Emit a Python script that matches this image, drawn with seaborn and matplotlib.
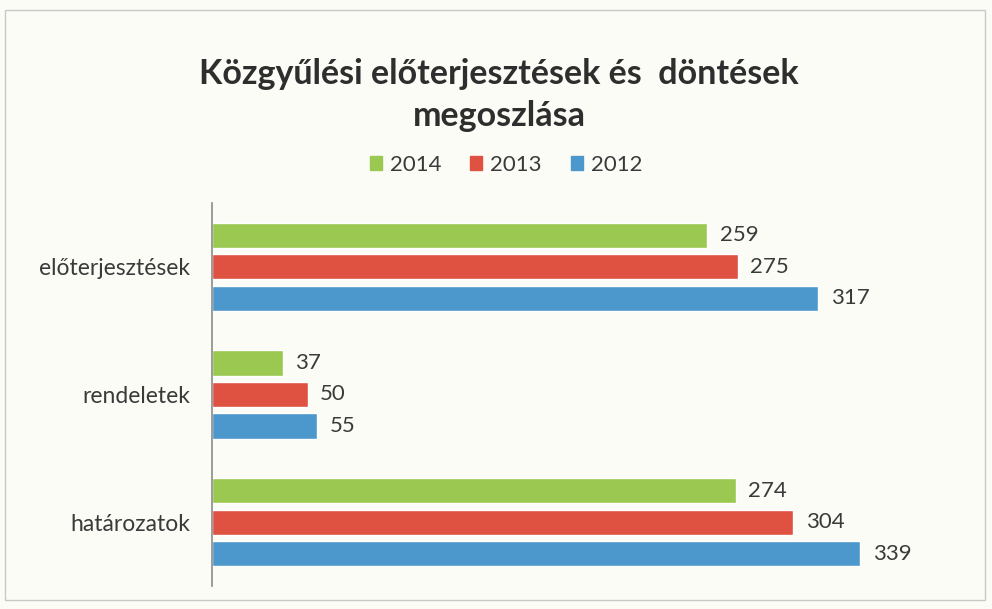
import matplotlib
matplotlib.use("Agg")
import matplotlib.pyplot as plt
import seaborn as sns
import pandas as pd
from matplotlib.patches import Rectangle

categories = ["előterjesztések", "rendeletek", "határozatok"]
years = ["2014", "2013", "2012"]
values_2014 = [259, 37, 274]
values_2013 = [275, 50, 304]
values_2012 = [317, 55, 339]
colors = ["#9BC850", "#DF5140", "#4C97CC"]
title = "Közgyűlési előterjesztések és  döntések\nmegoszlása"

rows = []
for y, vals in zip(years, [values_2014, values_2013, values_2012]):
    for c, v in zip(categories, vals):
        rows.append({"cat": c, "year": y, "val": v})
df = pd.DataFrame(rows)

sns.set_theme(style="white")
plt.rcParams["font.family"] = ["Lato", "DejaVu Sans"]

bg = "#FCFCF7"
fig = plt.figure(figsize=(9.92, 6.09), dpi=100, facecolor=bg)
ax = fig.add_axes([212/992, 1-586/609, (950-212)/992, (586-203)/609])
ax.set_facecolor(bg)

sns.barplot(data=df, y="cat", x="val", hue="year", hue_order=years,
            order=categories, palette=colors, orient="h", width=0.74, gap=0.2,
            ax=ax, legend=False, saturation=1)

for cont in ax.containers:
    ax.bar_label(cont, padding=9, fontsize=16, color="#3A3A3A")

ax.set_xlim(0, 386)
ax.set_ylim(2.5, -0.5)
ax.set_xlabel("")
ax.set_ylabel("")
ax.set_xticks([])
ax.tick_params(axis="y", length=0, pad=16, labelsize=16.5, labelcolor="#3A3A3A")
for s in ["top", "right", "bottom"]:
    ax.spines[s].set_visible(False)
ax.spines["left"].set_color("#8A8A8A")
ax.spines["left"].set_linewidth(1.2)

fig.text(0.503, 1-95/609, title, ha="center", va="center", fontsize=24.5,
         fontweight="bold", color="#2E2E2E", linespacing=1.38)

# legend
handles = [Rectangle((0, 0), 1, 1, color=c) for c in colors]
fig.legend(handles, years, loc="center", bbox_to_anchor=(0.51, 1-165/609),
           ncol=3, frameon=False, fontsize=16, handlelength=0.55, handleheight=0.55,
           handletextpad=0.35, columnspacing=1.3, labelcolor="#3A3A3A")

# outer frame
fig.patches.append(Rectangle((5/992, 1-600/609), 980/992, 590/609, transform=fig.transFigure,
                             fill=False, edgecolor="#C8C8C8", linewidth=1))

fig.savefig("out.png", dpi=100, facecolor=bg)
